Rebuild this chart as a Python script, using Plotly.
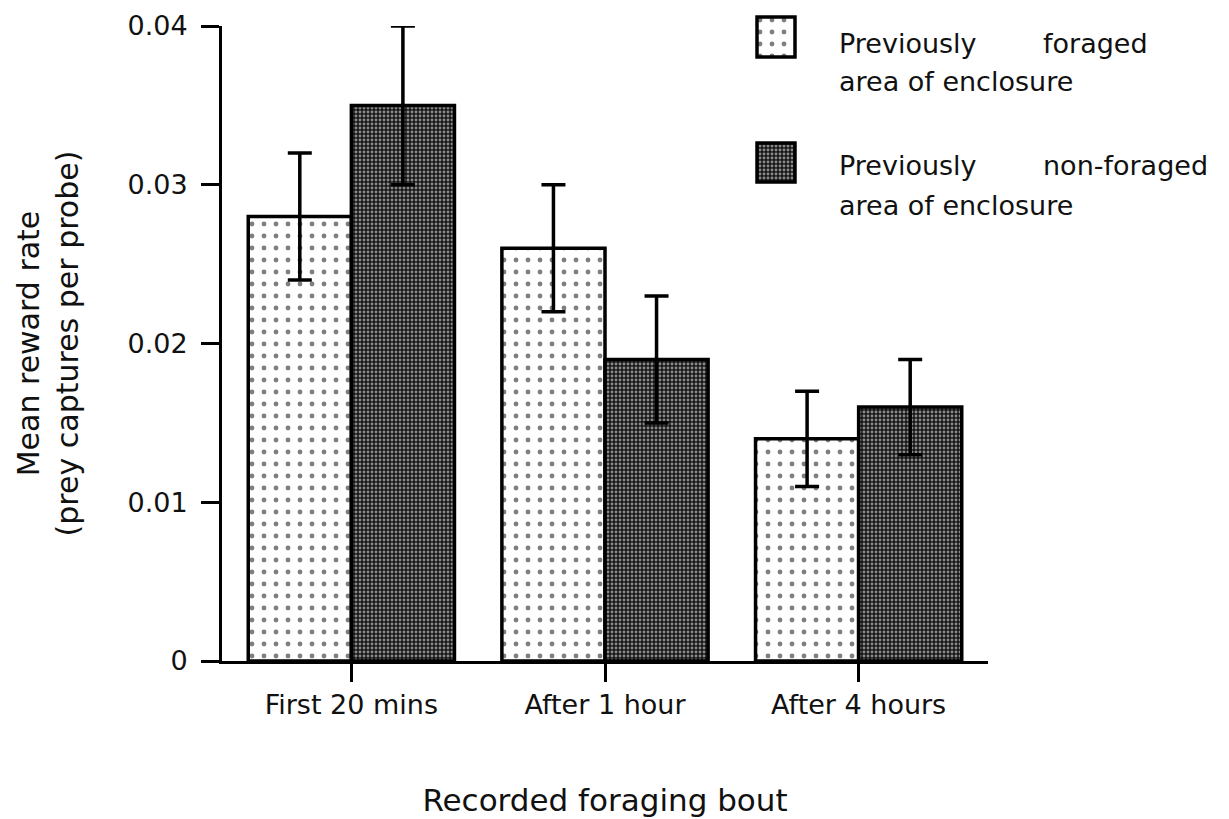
import plotly.graph_objects as go

# ---- data -------------------------------------------------------------
categories = ["First 20 mins", "After 1 hour", "After 4 hours"]
foraged_mean = [0.028, 0.026, 0.014]
foraged_err = [0.004, 0.004, 0.003]
nonforaged_mean = [0.035, 0.019, 0.016]
nonforaged_err = [0.005, 0.004, 0.003]
y_tick_vals = [0, 0.01, 0.02, 0.03, 0.04]
y_tick_text = ["0", "0.01", "0.02", "0.03", "0.04"]
legend_first_words = ["Previously", "Previously"]
legend_second_words = ["foraged", "non-foraged"]
legend_second_lines = ["area of enclosure", "area of enclosure"]

# ---- page geometry ----------------------------------------------------
W, H = 1229, 819
L, R, T, B = 222, 241, 10, 158
PW, PH = W - L - R, H - T - B
FONT = "DejaVu Sans"
INK = "#111111"


def fx(p):
    """pixel x -> paper fraction"""
    return (p - L) / PW


def fy(p):
    """pixel y -> paper fraction"""
    return (H - B - p) / PH


dots = dict(shape=".", bgcolor="white", fgcolor="black", size=12, solidity=0.13)
checks = dict(shape=".", bgcolor="#151515", fgcolor="white", size=4, solidity=0.42)
outline = dict(color="black", width=3.5)
err_style = dict(type="data", symmetric=True, color="black", thickness=3.5, width=12)

fig = go.Figure()

fig.add_trace(go.Bar(
    x=categories, y=foraged_mean, name="foraged",
    marker=dict(color="white", pattern=dots, line=outline),
    error_y=dict(array=foraged_err, **err_style),
    showlegend=False,
))
fig.add_trace(go.Bar(
    x=categories, y=nonforaged_mean, name="non-foraged",
    marker=dict(color="#151515", pattern=checks, line=outline),
    error_y=dict(array=nonforaged_err, **err_style),
    showlegend=False,
))

# legend swatches, each drawn as a single bar on its own small axis pair
swatches = [(757, 17, 38, 40, dots, "white"), (757, 143, 38, 39, checks, "#151515")]
pad = 3
layout_axes = {}
for i, (sx, sy, sw, sh, pat, col) in enumerate(swatches):
    n = i + 2
    fig.add_trace(go.Bar(
        x=[0], y=[1], width=1, xaxis=f"x{n}", yaxis=f"y{n}",
        marker=dict(color=col, pattern=pat, line=outline),
        showlegend=False, hoverinfo="skip",
    ))
    layout_axes[f"xaxis{n}"] = dict(
        domain=[fx(sx - pad), fx(sx + sw + pad)], anchor=f"y{n}",
        range=[-0.5 - pad / sw, 0.5 + pad / sw], visible=False,
        fixedrange=True, automargin=False)
    layout_axes[f"yaxis{n}"] = dict(
        domain=[fy(sy + sh + pad), fy(sy - pad)], anchor=f"x{n}",
        range=[-pad / sh, 1 + pad / sh], visible=False,
        fixedrange=True, automargin=False)

# legend text
annotations = []
text_font = dict(family=FONT, size=27, color=INK)
line_rows = [(43, 82), (165, 205)]
for i in range(2):
    y1, y2 = line_rows[i]
    annotations.append(dict(x=fx(837), y=fy(y1), xref="paper", yref="paper",
                            text=legend_first_words[i], showarrow=False,
                            xanchor="left", yanchor="middle", font=text_font))
    annotations.append(dict(x=fx(1041), y=fy(y1), xref="paper", yref="paper",
                            text=legend_second_words[i], showarrow=False,
                            xanchor="left", yanchor="middle", font=text_font))
    annotations.append(dict(x=fx(837), y=fy(y2), xref="paper", yref="paper",
                            text=legend_second_lines[i], showarrow=False,
                            xanchor="left", yanchor="middle", font=text_font))

fig.update_layout(
    width=W, height=H,
    margin=dict(l=L, r=R, t=T, b=B, pad=0, autoexpand=False),
    paper_bgcolor="white", plot_bgcolor="white",
    barmode="group", bargap=0.187, bargroupgap=0,
    font=dict(family=FONT, size=27, color=INK),
    xaxis=dict(
        range=[-0.51, 2.51], showline=True, linecolor="black", linewidth=3,
        ticks="outside", ticklen=18, tickwidth=3, tickcolor="black",
        showgrid=False, zeroline=False, automargin=False,
        tickfont=dict(family=FONT, size=27, color=INK),
        title=dict(text="Recorded foraging bout", standoff=70,
                   font=dict(family=FONT, size=31, color=INK)),
    ),
    yaxis=dict(
        domain=[0, fy(26)], range=[0, 0.04], showline=True, linecolor="black",
        linewidth=3, ticks="outside", ticklen=18, tickwidth=3,
        tickcolor="black", tickvals=y_tick_vals, ticktext=y_tick_text,
        ticklabelstandoff=8, showgrid=False, zeroline=False, automargin=False,
        tickfont=dict(family=FONT, size=27, color=INK),
        title=dict(text="Mean reward rate<br>(prey captures per probe)",
                   standoff=40,
                   font=dict(family=FONT, size=30, color=INK)),
    ),
    annotations=annotations,
    **layout_axes,
)

fig.write_html("out.html")
